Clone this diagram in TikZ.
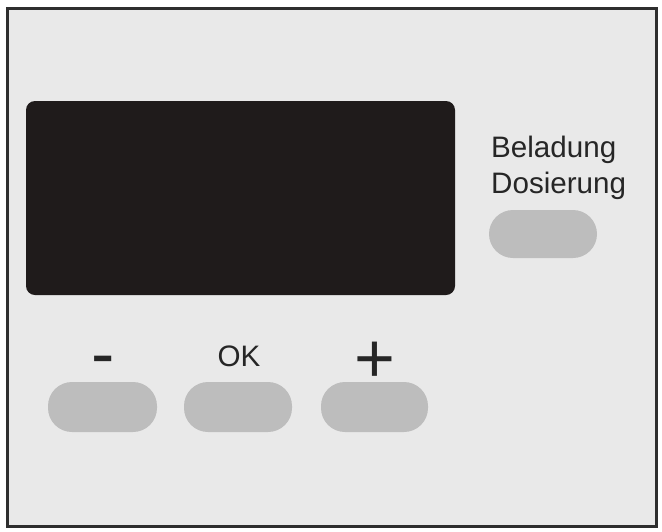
\documentclass[tikz,border=0pt]{standalone}
\usepackage{fontspec}
\setmainfont{Liberation Sans}
\definecolor{panelbg}{HTML}{E9E9E9}
\definecolor{btngray}{HTML}{BDBDBD}
\definecolor{dispblack}{HTML}{1F1B1B}
\definecolor{frame}{HTML}{2E2E2E}
\begin{document}
\begin{tikzpicture}[x=1pt,y=-1pt,
  panel/.style={draw=frame,line width=2.6pt,fill=panelbg},
  display/.style={fill=dispblack,rounded corners=9pt},
  btn/.style={fill=btngray,rounded corners=24pt},
  lbl/.style={font=\fontsize{29.6}{36}\selectfont,text=black!85,inner sep=0pt,anchor=base},
  sym/.style={font=\fontsize{70}{70}\selectfont,text=black!85,inner sep=0pt,anchor=base}]
\useasboundingbox (0,0) rectangle (662,531);
\path[panel] (7.5,8.5) rectangle (656.5,526.5);
\path[display] (26,101) rectangle (455,295);
% buttons
\path[btn] (48,382) rectangle (157,432);
\path[btn] (184,382) rectangle (292,432);
\path[btn] (321,382) rectangle (428,432);
\path[btn] (489,210) rectangle (597,258);
\node[coordinate] (bminus) at (102.5,407) {};
\node[coordinate] (bok) at (238,407) {};
\node[coordinate] (bplus) at (374.5,407) {};
\node[coordinate] (bbel) at (543,234) {};
% labels
\node[sym] (lminus) at (103,377) {-};
\node[lbl] (lok) at (239,366) {OK};
\node[sym] (lplus) at (375,382) {+};
\node[lbl,anchor=base west] (lbel) at (491,157) {Beladung};
\node[lbl,anchor=base west] (ldos) at (491,193) {Dosierung};
\end{tikzpicture}
\end{document}
